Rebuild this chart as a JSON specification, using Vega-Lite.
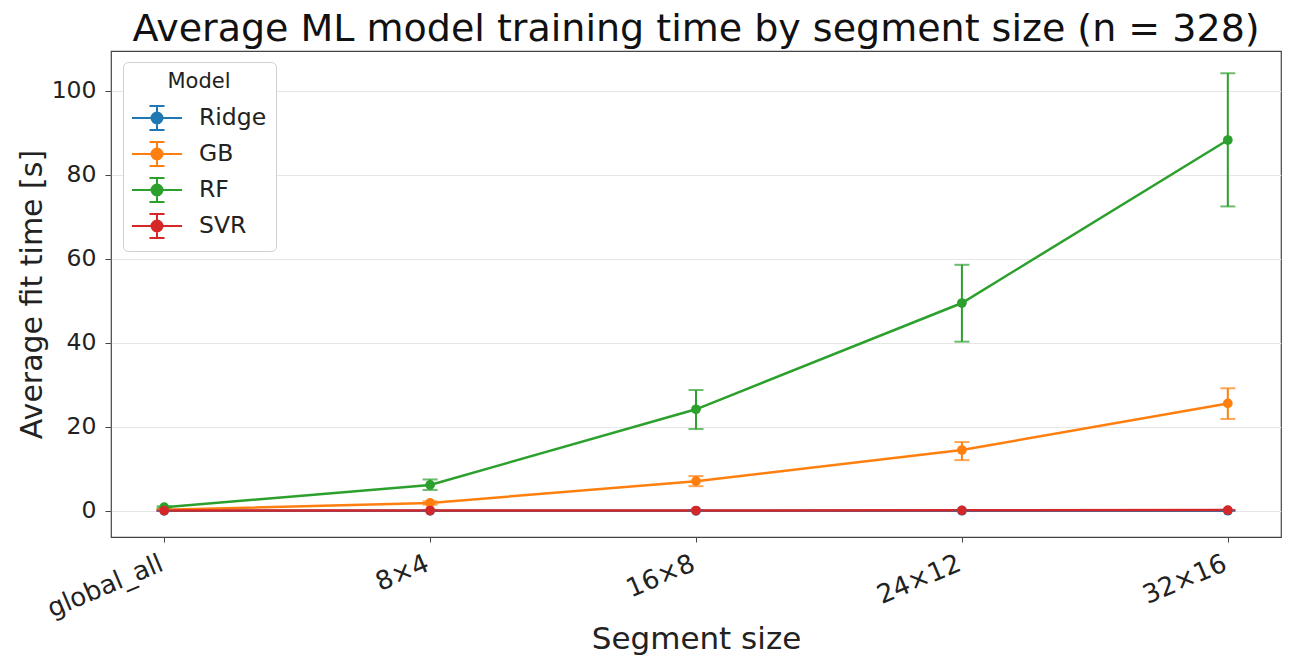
{
  "$schema": "https://vega.github.io/schema/vega-lite/v6.json",
  "width": 1170,
  "height": 486,
  "autosize": {"type": "none"},
  "padding": {"left": 111, "top": 51, "right": 8, "bottom": 122},
  "background": "white",
  "title": {
    "text": "Average ML model training time by segment size (n = 328)",
    "fontSize": 38,
    "font": "DejaVu Sans",
    "fontWeight": "normal",
    "color": "#111",
    "anchor": "middle",
    "frame": "group",
    "offset": 2
  },
  "config": {
    "font": "DejaVu Sans",
    "view": {"stroke": "#444", "strokeWidth": 1.2},
    "axis": {
      "labelFont": "DejaVu Sans",
      "titleFont": "DejaVu Sans",
      "labelColor": "#222",
      "titleColor": "#222",
      "tickColor": "#444",
      "tickSize": 5,
      "domain": false,
      "titleFontWeight": "normal"
    }
  },
  "data": {
    "values": [
      {"segment": "global_all", "model": "Ridge", "mean": 0.02, "lo": 0.0, "hi": 0.05},
      {"segment": "8×4", "model": "Ridge", "mean": 0.03, "lo": 0.0, "hi": 0.06},
      {"segment": "16×8", "model": "Ridge", "mean": 0.04, "lo": 0.0, "hi": 0.08},
      {"segment": "24×12", "model": "Ridge", "mean": 0.05, "lo": 0.0, "hi": 0.1},
      {"segment": "32×16", "model": "Ridge", "mean": 0.06, "lo": 0.0, "hi": 0.12},
      {"segment": "global_all", "model": "GB", "mean": 0.3, "lo": 0.2, "hi": 0.4},
      {"segment": "8×4", "model": "GB", "mean": 1.9, "lo": 1.5, "hi": 2.3},
      {"segment": "16×8", "model": "GB", "mean": 7.1, "lo": 5.9, "hi": 8.3},
      {"segment": "24×12", "model": "GB", "mean": 14.5, "lo": 12.1, "hi": 16.4},
      {"segment": "32×16", "model": "GB", "mean": 25.6, "lo": 21.9, "hi": 29.2},
      {"segment": "global_all", "model": "RF", "mean": 0.9, "lo": 0.7, "hi": 1.1},
      {"segment": "8×4", "model": "RF", "mean": 6.2, "lo": 5.0, "hi": 7.5},
      {"segment": "16×8", "model": "RF", "mean": 24.2, "lo": 19.5, "hi": 28.8},
      {"segment": "24×12", "model": "RF", "mean": 49.5, "lo": 40.3, "hi": 58.6},
      {"segment": "32×16", "model": "RF", "mean": 88.3, "lo": 72.5, "hi": 104.2},
      {"segment": "global_all", "model": "SVR", "mean": 0.1, "lo": 0.05, "hi": 0.15},
      {"segment": "8×4", "model": "SVR", "mean": 0.1, "lo": 0.05, "hi": 0.15},
      {"segment": "16×8", "model": "SVR", "mean": 0.1, "lo": 0.05, "hi": 0.15},
      {"segment": "24×12", "model": "SVR", "mean": 0.15, "lo": 0.1, "hi": 0.2},
      {"segment": "32×16", "model": "SVR", "mean": 0.2, "lo": 0.15, "hi": 0.25}
    ]
  },
  "encoding": {
    "x": {
      "field": "segment",
      "type": "nominal",
      "sort": ["global_all", "8×4", "16×8", "24×12", "32×16"],
      "scale": {"type": "point", "padding": 0.2},
      "axis": {
        "title": "Segment size",
        "titleFontSize": 31,
        "titlePadding": 3,
        "labelFontSize": 26,
        "labelAngle": -23,
        "labelAlign": "right",
        "labelBaseline": "top",
        "labelPadding": 8,
        "labelOffset": -8,
        "grid": false
      }
    },
    "color": {
      "field": "model",
      "type": "nominal",
      "sort": ["Ridge", "GB", "RF", "SVR"],
      "scale": {
        "domain": ["Ridge", "GB", "RF", "SVR"],
        "range": ["#1f77b4", "#ff7f0e", "#2ca02c", "#d62728"]
      },
      "legend": {
        "title": "Model",
        "orient": "none",
        "legendX": 12,
        "legendY": 11,
        "titleAnchor": "middle",
        "titleFontSize": 21,
        "titleFontWeight": "normal",
        "titleColor": "#222",
        "titlePadding": 10,
        "labelFontSize": 23.5,
        "labelColor": "#222",
        "symbolType": "M-1.07,0H2.27M0.6,-0.8V0.8M0.1,-0.8H1.1M0.1,0.8H1.1M0.233,0A0.367,0.367 0 1,0 0.967,0A0.367,0.367 0 1,0 0.233,0Z",
        "symbolSize": 900,
        "symbolStrokeWidth": 2,
        "labelOffset": 35,
        "rowPadding": 4,
        "padding": 9,
        "strokeColor": "#d0d0d0",
        "fillColor": "white",
        "cornerRadius": 5,
        "encode": {
          "symbols": {
            "update": {
              "fill": {"scale": "color", "field": "value"},
              "stroke": {"scale": "color", "field": "value"},
              "fillOpacity": {"value": 1},
              "strokeWidth": {"value": 2}
            }
          }
        }
      }
    }
  },
  "layer": [
    {
      "mark": {"type": "line", "strokeWidth": 2.5},
      "encoding": {
        "y": {
          "field": "mean",
          "type": "quantitative",
          "scale": {"domain": [-6.2, 109.5], "nice": false, "zero": false},
          "axis": {
            "title": "Average fit time [s]",
            "titleFontSize": 30,
            "titlePadding": 4,
            "labelFontSize": 23.5,
            "labelPadding": 9,
            "tickSize": 6,
            "values": [0, 20, 40, 60, 80, 100],
            "grid": true,
            "gridColor": "#e6e6e6",
            "gridWidth": 1
          }
        }
      }
    },
    {
      "mark": {"type": "rule", "strokeWidth": 2},
      "encoding": {
        "y": {"field": "lo", "type": "quantitative"},
        "y2": {"field": "hi"}
      }
    },
    {
      "mark": {"type": "tick", "size": 15, "thickness": 2},
      "encoding": {"y": {"field": "lo", "type": "quantitative"}}
    },
    {
      "mark": {"type": "tick", "size": 15, "thickness": 2},
      "encoding": {"y": {"field": "hi", "type": "quantitative"}}
    },
    {
      "mark": {"type": "point", "filled": true, "opacity": 1, "size": 95, "shape": "circle"},
      "encoding": {"y": {"field": "mean", "type": "quantitative"}}
    }
  ]
}
